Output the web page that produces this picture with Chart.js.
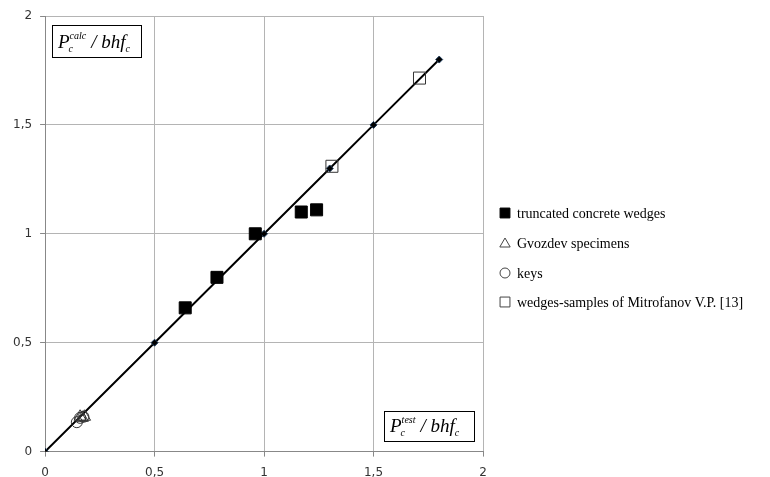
<!DOCTYPE html>
<html>
<head>
<meta charset="utf-8">
<script src="https://cdn.jsdelivr.net/npm/chart.js@4.4.0/dist/chart.umd.min.js"></script>
<style>
  body { margin: 0; background: #fff; }
  #wrap { width: 770px; height: 477px; }
</style>
</head>
<body>
<div id="wrap"><canvas id="myChart"></canvas></div>
<script>
// ideal line Pcalc = Ptest
var lineX = [0, 0.5, 1, 1.3, 1.5, 1.8];
var lineY = [0, 0.5, 1, 1.3, 1.5, 1.8];

// truncated concrete wedges
var wedgesX = [0.64, 0.785, 0.96, 1.17, 1.24];
var wedgesY = [0.66, 0.80, 1.00, 1.10, 1.11];

// Gvozdev specimens
var gvozdevX = [0.16, 0.17, 0.18];
var gvozdevY = [0.16, 0.155, 0.16];

// keys
var keysX = [0.145, 0.16, 0.175];
var keysY = [0.135, 0.155, 0.16];

// wedges-samples of Mitrofanov V.P. [13]
var mitroX = [1.31, 1.71];
var mitroY = [1.31, 1.715];

var ticks = [0, 0.5, 1, 1.5, 2];

function pts(xs, ys) {
  var out = [];
  for (var i = 0; i < xs.length; i++) out.push({x: xs[i], y: ys[i]});
  return out;
}
function fmt(v) { return String(v).replace('.', ','); }

// the two italic labels in boxes
function drawLabel(ctx, x, y, w, h, sup) {
  ctx.save();
  ctx.fillStyle = '#fff';
  ctx.fillRect(x, y, w, h);
  ctx.strokeStyle = '#000';
  ctx.lineWidth = 1;
  ctx.strokeRect(x + 0.5, y + 0.5, w, h);
  ctx.fillStyle = '#000';
  ctx.textBaseline = 'alphabetic';
  var base = y + h - 9;
  var cx = x + 6;
  ctx.font = 'italic 19px "Liberation Serif"';
  ctx.fillText('P', cx, base);
  var pw = ctx.measureText('P').width;
  ctx.font = 'italic 10px "Liberation Serif"';
  ctx.fillText('c', cx + pw - 1, base + 4);
  ctx.fillText(sup, cx + pw, base - 9);
  cx += pw + ctx.measureText(sup).width + 5;
  ctx.font = 'italic 19px "Liberation Serif"';
  ctx.fillText('/ bhf', cx, base);
  cx += ctx.measureText('/ bhf').width;
  ctx.font = 'italic 10px "Liberation Serif"';
  ctx.fillText('c', cx, base + 4);
  ctx.restore();
}

var boxPlugin = {
  id: 'boxes',
  afterDraw: function(chart) {
    var ctx = chart.ctx;
    drawLabel(ctx, 52, 25, 89, 32, 'calc');
    drawLabel(ctx, 384, 411, 90, 30, 'test');
  }
};

// legend on the right, markers taken from the datasets
var legendPlugin = {
  id: 'sideLegend',
  afterDraw: function(chart) {
    var ctx = chart.ctx;
    var left = chart.chartArea.right + 22;
    var rows = [213, 243, 273, 302];
    var sizes = { rect: 7, triangle: 6, circle: 5 };
    ctx.save();
    ctx.font = '14px "Liberation Serif"';
    ctx.textBaseline = 'middle';
    for (var i = 1; i < chart.data.datasets.length; i++) {
      var ds = chart.data.datasets[i];
      var y = rows[i - 1];
      ctx.fillStyle = i === 1 ? '#000' : '#fff';
      ctx.strokeStyle = i === 1 ? '#000' : '#444';
      ctx.lineWidth = 1;
      Chart.helpers.drawPoint(ctx, {
        pointStyle: ds.pointStyle,
        radius: sizes[ds.pointStyle],
        borderWidth: 1
      }, left, y + (ds.pointStyle === 'triangle' ? 1 : 0));
      ctx.fillStyle = '#000';
      ctx.fillText(ds.label, left + 12, y + 1);
    }
    ctx.restore();
  }
};

var ctx = document.getElementById('myChart').getContext('2d');
var chart = new Chart(ctx, {
  type: 'scatter',
  data: {
    datasets: [{
      label: 'line',
      data: pts(lineX, lineY),
      showLine: true,
      borderColor: '#000',
      borderWidth: 2,
      pointStyle: 'rectRot',
      pointRadius: 3.5,
      pointBackgroundColor: '#000',
      pointBorderColor: '#1f3b5a',
      pointBorderWidth: 1,
      order: 5
    }, {
      label: 'truncated concrete wedges',
      data: pts(wedgesX, wedgesY),
      pointStyle: 'rect',
      pointRadius: 8.5,
      backgroundColor: '#000',
      borderColor: '#000',
      borderWidth: 1
    }, {
      label: 'Gvozdev specimens',
      data: pts(gvozdevX, gvozdevY),
      pointStyle: 'triangle',
      pointRadius: 7,
      backgroundColor: 'rgba(255,255,255,0)',
      borderColor: '#333',
      borderWidth: 1
    }, {
      label: 'keys',
      data: pts(keysX, keysY),
      pointStyle: 'circle',
      pointRadius: 5.5,
      backgroundColor: 'rgba(255,255,255,0)',
      borderColor: '#333',
      borderWidth: 1
    }, {
      label: 'wedges-samples of Mitrofanov V.P. [13]',
      data: pts(mitroX, mitroY),
      pointStyle: 'rect',
      pointRadius: 8.5,
      backgroundColor: 'rgba(255,255,255,0)',
      borderColor: '#333',
      borderWidth: 1
    }]
  },
  options: {
    responsive: true,
    maintainAspectRatio: false,
    animation: false,
    layout: { padding: { top: 16, left: 5, right: 287, bottom: -12 } },
    plugins: {
      tooltip: { enabled: false },
      legend: { display: false }
    },
    scales: {
      x: {
        type: 'linear',
        min: 0, max: 2,
        afterBuildTicks: function(axis) { axis.ticks = ticks.map(function(v) { return {value: v}; }); },
        ticks: {
          color: '#333',
          padding: 9,
          font: { family: '"DejaVu Sans"', size: 12 },
          callback: function(v) { return fmt(v); }
        },
        grid: { color: '#b4b4b4', tickLength: 5, tickColor: '#888' },
        border: { color: '#888' }
      },
      y: {
        type: 'linear',
        min: 0, max: 2,
        afterBuildTicks: function(axis) { axis.ticks = ticks.map(function(v) { return {value: v}; }); },
        ticks: {
          color: '#333',
          padding: 8,
          font: { family: '"DejaVu Sans"', size: 12 },
          callback: function(v) { return fmt(v); }
        },
        grid: { color: '#b4b4b4', tickLength: 5, tickColor: '#888' },
        border: { color: '#888' }
      }
    }
  },
  plugins: [boxPlugin, legendPlugin]
});
</script>
</body>
</html>
